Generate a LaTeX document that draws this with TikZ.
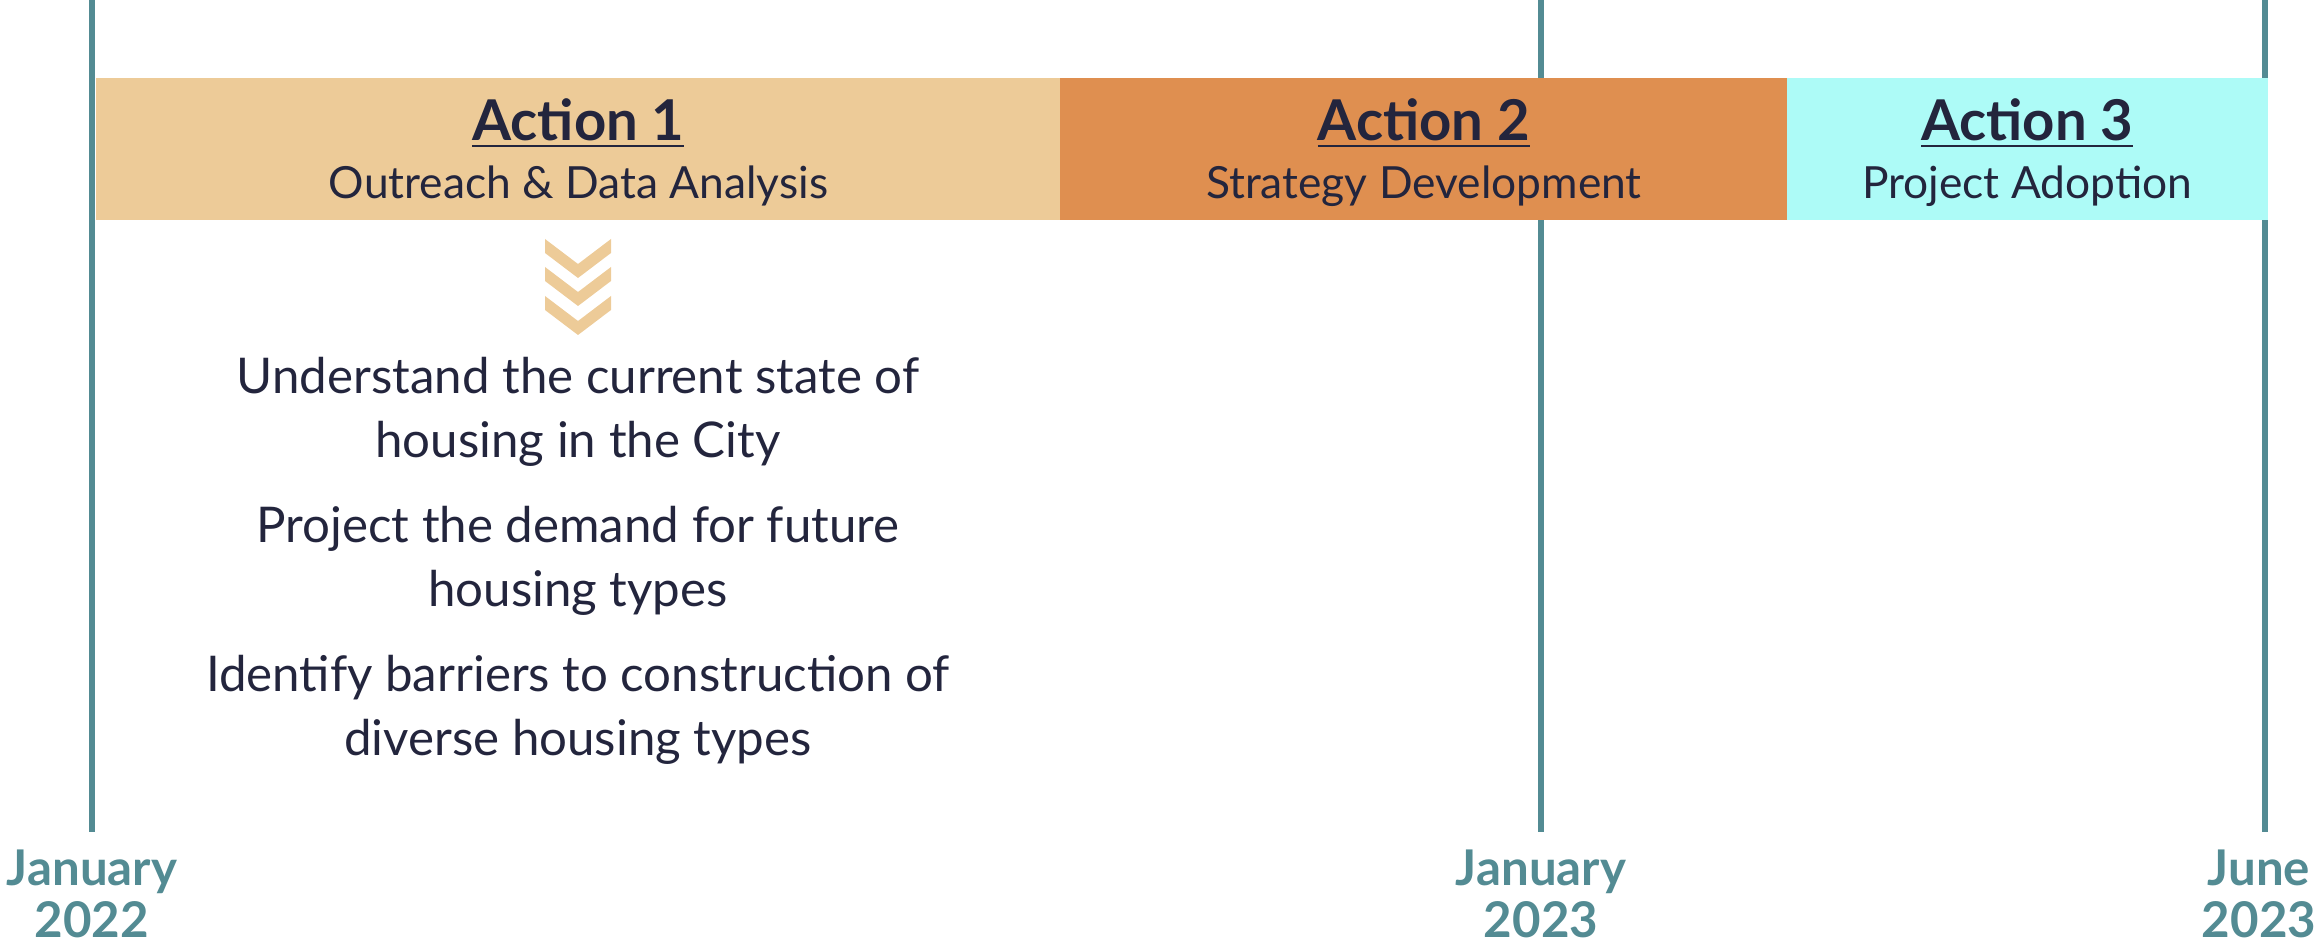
\documentclass[tikz,border=0pt]{standalone}
\usepackage{fontspec}
\setmainfont{Lato}
\usetikzlibrary{positioning}

\definecolor{marker}{HTML}{538B93}
\definecolor{phaseone}{HTML}{EDCB98}
\definecolor{phasetwo}{HTML}{DF8F50}
\definecolor{phasethree}{HTML}{ADFBF7}
\definecolor{ink}{HTML}{23253D}

\tikzset{
  actionbar/.style={minimum height=1.42cm, inner sep=0pt, align=center, text=ink,
    text depth=0pt, font=\fontsize{12.6}{16.5}\selectfont},
  goal/.style={align=center, text=ink, font=\fontsize{14}{18.4}\selectfont},
  datelbl/.style={align=center, text=marker, font=\fontsize{14}{15}\selectfont\bfseries},
  timemark/.style={draw=marker, line width=0.06cm}
}
\newcommand{\acttitle}[1]{{\fontsize{16}{16.5}\selectfont\bfseries\underline{#1}}}

\begin{document}
\begin{tikzpicture}[x=0.01cm,y=-0.01cm]
    \useasboundingbox (0,0) rectangle (2320,949);

    % Time marks:
    % vertical lines from the top edge down to the date labels
    \coordinate (start) at (92,0);
    \coordinate (mid)   at (1541,0);
    \coordinate (end)   at (2265,0);
    \coordinate (startb) at (92,832);
    \coordinate (midb)   at (1541,832);
    \coordinate (endb)   at (2265,832);

    \draw [timemark] (start) -- (startb);
    \draw [timemark] (mid) -- (midb);
    \draw [timemark] (end) -- (endb);

    % Action bars:
    \node [actionbar, fill=phaseone, minimum width=9.65cm, anchor=north west] (act1) at (95,77)
        {\acttitle{Action 1}\\Outreach \& Data Analysis};
    \node [actionbar, fill=phasetwo, minimum width=7.28cm, right=-0.03cm of act1] (act2)
        {\acttitle{Action 2}\\Strategy Development};
    \node [actionbar, fill=phasethree, minimum width=4.81cm, right=-0.03cm of act2] (act3)
        {\acttitle{Action 3}\\Project Adoption};

    % Chevrons under Action 1:
    \foreach \t in {239,267,296}
        \fill [phaseone] (545,\t) -- ++(33,25) -- ++(33,-25) -- ++(0,14) -- ++(-33,25) -- ++(-33,-25) -- cycle;

    % Goals of Action 1:
    \node [goal] (goal1) at (578,412) {Understand the current state of\\housing in the City};
    \node [goal] (goal2) at (578,561) {Project the demand for future\\housing types};
    \node [goal] (goal3) at (578,710) {Identify barriers to construction of\\diverse housing types};

    % Dates:
    \node [datelbl] (date1) at (92,894)   {January\\2022};
    \node [datelbl] (date2) at (1541,894) {January\\2023};
    \node [datelbl] (date3) at (2259,894) {June\\2023};
\end{tikzpicture}
\end{document}
